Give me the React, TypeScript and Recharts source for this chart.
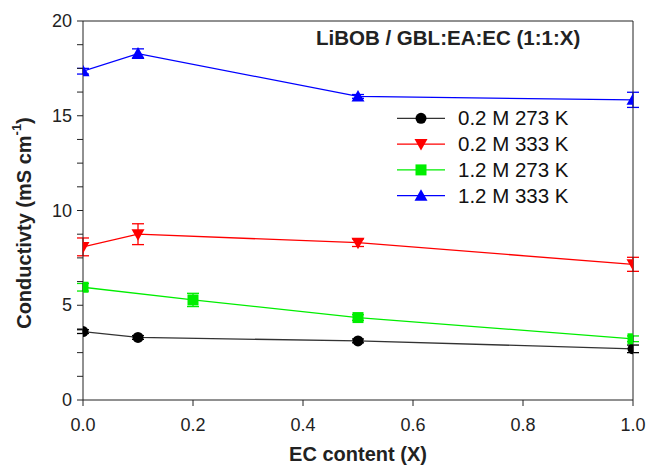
import {
  LineChart,
  Line,
  XAxis,
  YAxis,
  ErrorBar,
  ReferenceLine,
  Customized,
} from "recharts";

// EC content (X) per series
const xLowConc = [0, 0.1, 0.5, 1.0];
const xHighConc273 = [0, 0.2, 0.5, 1.0];
const xHighConc333 = [0, 0.1, 0.5, 1.0];

// conductivity (mS cm-1) and error
const c02M273 = [3.61, 3.3, 3.12, 2.7];
const e02M273 = [0.1, 0.1, 0.1, 0.2];
const c02M333 = [8.08, 8.75, 8.3, 7.16];
const e02M333 = [0.47, 0.55, 0.2, 0.37];
const c12M273 = [5.95, 5.28, 4.35, 3.23];
const e12M273 = [0.2, 0.35, 0.15, 0.15];
const c12M333 = [17.35, 18.28, 16.02, 15.84];
const e12M333 = [0.15, 0.25, 0.1, 0.4];

const xTicks = [0, 0.2, 0.4, 0.6, 0.8, 1.0];
const yTicks = [0, 1.25, 2.5, 3.75, 5, 6.25, 7.5, 8.75, 10, 11.25, 12.5, 13.75, 15, 16.25, 17.5, 18.75, 20];

const FONT = '"Liberation Sans", Arial, sans-serif';
const AXIS = "#222";

const zip = (xs: number[], ys: number[], es: number[]) =>
  xs.map((x, i) => ({ x, y: ys[i], err: es[i] }));

const series = [
  { name: "0.2 M 273 K", data: zip(xLowConc, c02M273, e02M273), color: "#000", line: "#333", shape: "circle" },
  { name: "0.2 M 333 K", data: zip(xLowConc, c02M333, e02M333), color: "#ff0000", line: "#ff0000", shape: "down" },
  { name: "1.2 M 273 K", data: zip(xHighConc273, c12M273, e12M273), color: "#00ee00", line: "#00ee00", shape: "square" },
  { name: "1.2 M 333 K", data: zip(xHighConc333, c12M333, e12M333), color: "#0000ff", line: "#0000ff", shape: "up" },
];

function Marker({ shape, cx, cy, color }: { shape: string; cx: number; cy: number; color: string }) {
  if (shape === "circle") return <circle cx={cx} cy={cy} r={5.5} fill={color} />;
  if (shape === "square") return <rect x={cx - 5.5} y={cy - 5.5} width={11} height={11} fill={color} />;
  if (shape === "down")
    return <polygon points={`${cx - 6.5},${cy - 5} ${cx + 6.5},${cy - 5} ${cx},${cy + 6.5}`} fill={color} />;
  return <polygon points={`${cx - 6.5},${cy + 5} ${cx + 6.5},${cy + 5} ${cx},${cy - 6.5}`} fill={color} />;
}

const YTick = (props: any) => {
  const { x, y, payload } = props;
  if (payload.value % 5 !== 0) return <g />;
  return (
    <text x={x} y={y} dy={6} textAnchor="end" fontSize={18} fill={AXIS} fontFamily={FONT}>
      {payload.value}
    </text>
  );
};

const YTitle = () => (
  <text
    x={24}
    y={223}
    transform="rotate(-90, 24, 223)"
    textAnchor="middle"
    dominantBaseline="central"
    fontSize={20}
    fontWeight="bold"
    fill={AXIS}
    fontFamily={FONT}
  >
    <tspan>Conductivty (mS cm</tspan>
    <tspan dy={-8} fontSize={13}>-1</tspan>
    <tspan dy={8}>)</tspan>
  </text>
);

const LegendBox = () => (
  <g fontFamily={FONT} fontSize={20.5} fill="#111">
    {series.map((s, i) => {
      const y = 118.3 + i * 25.8;
      return (
        <g key={s.name}>
          <line x1={397} x2={445} y1={y} y2={y} stroke={s.line} strokeWidth={1.3} />
          <Marker shape={s.shape} cx={421} cy={y} color={s.color} />
          <text x={458} y={y + 7}>{s.name}</text>
        </g>
      );
    })}
    <text x={316} y={45} fontWeight="bold" fill={AXIS}>
      LiBOB / GBL:EA:EC (1:1:X)
    </text>
  </g>
);

export default function App() {
  return (
    <div style={{ position: "absolute", left: 0, top: 0, background: "#fff" }}>
      <LineChart width={648} height={466} margin={{ top: 21, right: 0, left: 0, bottom: 0 }}>
        <XAxis
          type="number"
          dataKey="x"
          domain={[0, 1]}
          ticks={xTicks}
          tickFormatter={(v: number) => v.toFixed(1)}
          height={66}
          tickSize={6}
          tickMargin={12}
          stroke={AXIS}
          tick={{ fontSize: 18, fill: AXIS, fontFamily: FONT }}
          allowDataOverflow
          label={{
            value: "EC content (X)",
            position: "insideBottom",
            offset: 5,
            fontSize: 20,
            fontWeight: "bold",
            fill: AXIS,
            fontFamily: FONT,
          }}
        />
        <YAxis
          yAxisId="left"
          type="number"
          domain={[0, 20]}
          ticks={yTicks}
          interval={0}
          width={83}
          tickSize={6}
          tickMargin={5}
          stroke={AXIS}
          tick={YTick}
          label={<YTitle />}
        />
        <YAxis
          yAxisId="right"
          orientation="right"
          type="number"
          domain={[0, 20]}
          ticks={yTicks}
          interval={0}
          width={15}
          tickSize={5}
          stroke={AXIS}
          tick={() => <g />}
        />
        <ReferenceLine yAxisId="left" y={20} stroke={AXIS} strokeWidth={1} />
        {series.map((s) => (
          <Line
            key={s.name}
            yAxisId="left"
            data={s.data}
            dataKey="y"
            name={s.name}
            stroke={s.line}
            strokeWidth={1.3}
            isAnimationActive={false}
            dot={(p: any) => (
              <Marker key={`${s.name}-${p.index}`} shape={s.shape} cx={p.cx} cy={p.cy} color={s.color} />
            )}
            activeDot={false}
          >
            <ErrorBar dataKey="err" direction="y" width={6} stroke={s.color} strokeWidth={1.3} />
          </Line>
        ))}
        <Customized component={LegendBox} />
      </LineChart>
    </div>
  );
}
